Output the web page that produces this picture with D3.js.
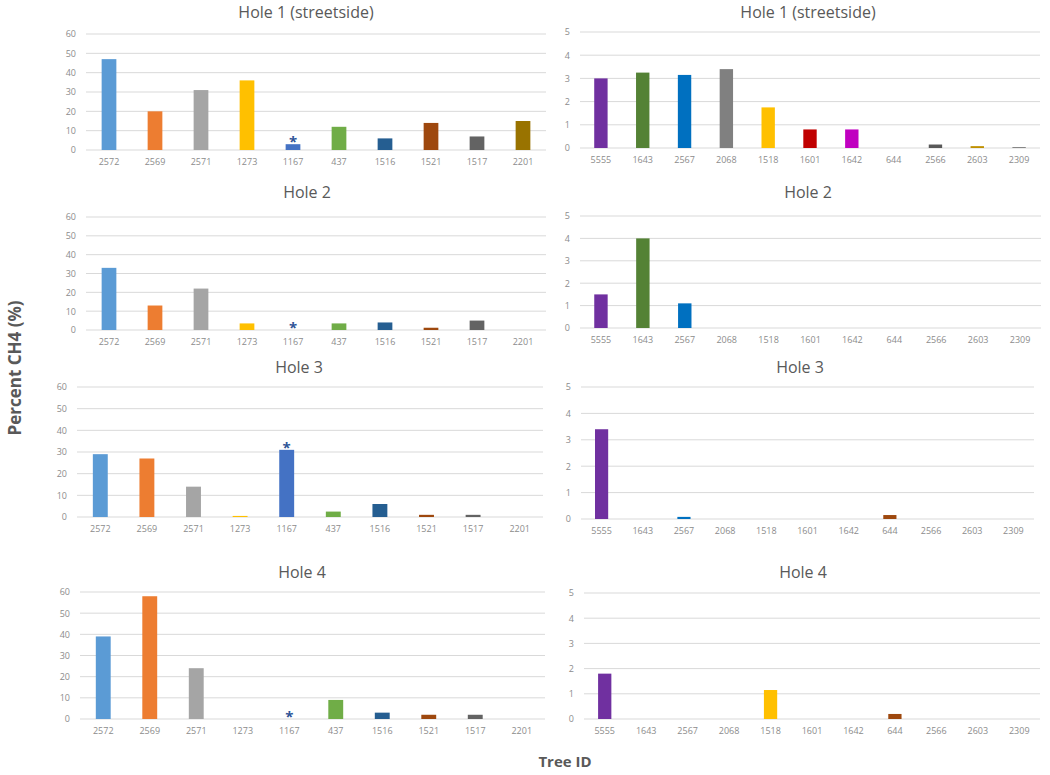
<html>
<script src="https://d3js.org/d3.v7.min.js"></script>
<style>
  body { margin: 0; background: #fff; }
  text { font-family: "Open Sans", "Liberation Sans", sans-serif; }
</style>
<body>
<svg class="chart" width="1050" height="775"></svg>
<script>
// tree ids
var leftTrees = ["2572","2569","2571","1273","1167","437","1516","1521","1517","2201"];
var rightTrees = ["5555","1643","2567","2068","1518","1601","1642","644","2566","2603","2309"];

var leftColors = ["#5B9BD5","#ED7D31","#A5A5A5","#FFC000","#4472C4","#70AD47","#255E91","#9E480E","#636363","#997300"];
var rightColors = ["#7030A0","#548235","#0070C0","#808080","#FFC000","#C00000","#C000C0","#9E480E","#595959","#BF9000","#7F7F7F"];

var holeTitles = ["Hole 1 (streetside)","Hole 2","Hole 3","Hole 4"];

// percent CH4, one array per hole
var leftHole1 = [47, 20, 31, 36, 3, 12, 6, 14, 7, 15];
var leftHole2 = [33, 13, 22, 3.5, 0, 3.5, 4, 1.2, 5, 0];
var leftHole3 = [29, 27, 14, 0.5, 31, 2.5, 6, 1, 1, 0];
var leftHole4 = [39, 58, 24, 0, 0, 9, 3, 2, 2, 0];

var rightHole1 = [3.0, 3.25, 3.15, 3.4, 1.75, 0.8, 0.8, 0, 0.15, 0.08, 0.04];
var rightHole2 = [1.5, 4.0, 1.1, 0, 0, 0, 0, 0, 0, 0, 0];
var rightHole3 = [3.4, 0, 0.08, 0, 0, 0, 0, 0.15, 0, 0, 0];
var rightHole4 = [1.8, 0, 0, 0, 1.15, 0, 0, 0.2, 0, 0, 0];

var leftTicks = [0, 10, 20, 30, 40, 50, 60];
var rightTicks = [0, 1, 2, 3, 4, 5];

// tree 1167 gets an asterisk
var starTree = "1167";

// panel frames (pixels)
var leftFrames = [
  {x0: 86, x1: 546, yTop: 34, yBot: 150, ty: 18, tx: 306},
  {x0: 86, x1: 546, yTop: 217, yBot: 330, ty: 198, tx: 307},
  {x0: 77, x1: 543, yTop: 387, yBot: 517, ty: 373, tx: 299},
  {x0: 80, x1: 545, yTop: 592, yBot: 719, ty: 578, tx: 302}
];
var rightFrames = [
  {x0: 580, x1: 1040, yTop: 32, yBot: 148, ty: 18, tx: 808},
  {x0: 580, x1: 1041, yTop: 216, yBot: 328, ty: 198, tx: 808},
  {x0: 581, x1: 1034, yTop: 387, yBot: 519, ty: 373, tx: 800},
  {x0: 584, x1: 1040, yTop: 593, yBot: 719, ty: 578, tx: 803}
];

var svg = d3.select(".chart");

function drawPanel(f, title, trees, values, colors, ticks, maxVal) {
  var x = d3.scaleBand().domain(trees).range([f.x0, f.x1]).paddingInner(0.68).paddingOuter(0.34);
  var y = d3.scaleLinear().domain([0, maxVal]).range([f.yBot, f.yTop]);
  var g = svg.append("g");

  // gridlines
  g.selectAll("line.grid").data(ticks).enter()
    .append("line")
      .attr("x1", f.x0).attr("x2", f.x1)
      .attr("y1", function(d) { return y(d); })
      .attr("y2", function(d) { return y(d); })
      .attr("stroke", "#D9D9D9")
      .attr("stroke-width", 1);

  // y axis labels
  var ya = g.append("g")
    .attr("transform", "translate(" + (f.x0 - 6) + ",0)")
    .call(d3.axisLeft(y).tickValues(ticks).tickFormat(d3.format("d")).tickSize(0).tickPadding(4));
  ya.select(".domain").remove();
  ya.selectAll("text").attr("fill", "#8C8C8C").style("font-size", "9px");

  // x axis labels
  var xa = g.append("g")
    .attr("transform", "translate(0," + f.yBot + ")")
    .call(d3.axisBottom(x).tickSize(0).tickPadding(9));
  xa.select(".domain").remove();
  xa.selectAll("text").attr("fill", "#8C8C8C").style("font-size", "9px");

  // bars
  g.selectAll("rect").data(values).enter()
    .append("rect")
      .attr("x", function(d, i) { return x(trees[i]); })
      .attr("width", x.bandwidth())
      .attr("y", function(d) { return y(d); })
      .attr("height", function(d) { return y(0) - y(d); })
      .attr("fill", function(d, i) { return colors[i]; });

  // asterisk over 1167
  var si = trees.indexOf(starTree);
  if (si >= 0) {
    g.append("text")
      .attr("x", x(starTree) + x.bandwidth() / 2)
      .attr("y", y(values[si]) + 3)
      .attr("text-anchor", "middle")
      .attr("fill", "#2F5597")
      .style("font-size", "15px")
      .style("font-weight", "bold")
      .text("*");
  }

  // title
  g.append("text")
    .attr("x", f.tx).attr("y", f.ty)
    .attr("text-anchor", "middle")
    .attr("fill", "#595959")
    .style("font-size", "16px")
    .text(title);
}

var leftData = [leftHole1, leftHole2, leftHole3, leftHole4];
var rightData = [rightHole1, rightHole2, rightHole3, rightHole4];

for (var i = 0; i < 4; i++) {
  drawPanel(leftFrames[i], holeTitles[i], leftTrees, leftData[i], leftColors, leftTicks, 60);
  drawPanel(rightFrames[i], holeTitles[i], rightTrees, rightData[i], rightColors, rightTicks, 5);
}

// axis titles
svg.append("text")
  .attr("transform", "translate(21,368) rotate(-90)")
  .attr("text-anchor", "middle")
  .attr("fill", "#595959")
  .style("font-size", "17px")
  .style("font-weight", "bold")
  .text("Percent CH4 (%)");

svg.append("text")
  .attr("x", 565).attr("y", 767)
  .attr("text-anchor", "middle")
  .attr("fill", "#595959")
  .style("font-size", "15px")
  .style("font-weight", "bold")
  .text("Tree ID");
</script>
</body>
</html>
